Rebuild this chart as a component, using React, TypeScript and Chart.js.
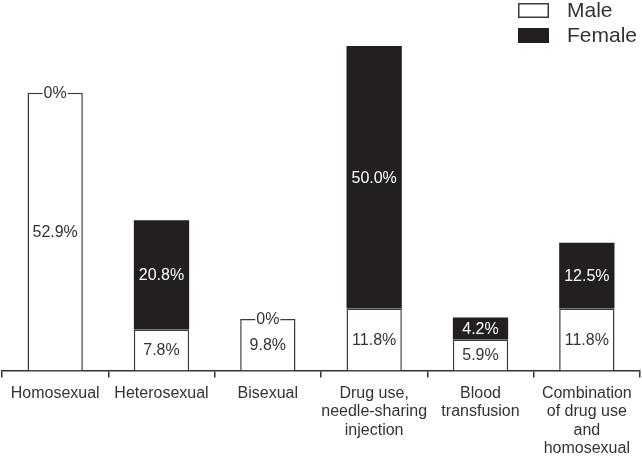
import React, { useEffect, useRef } from "react";
import { Chart, registerables } from "chart.js";

Chart.register(...registerables);

const categories: string[][] = [
  ["Homosexual"],
  ["Heterosexual"],
  ["Bisexual"],
  ["Drug use,", "needle-sharing", "injection"],
  ["Blood", "transfusion"],
  ["Combination", "of drug use", "and", "homosexual"],
];
const maleValues = [52.9, 7.8, 9.8, 11.8, 5.9, 11.8];
const femaleValues = [0, 20.8, 0, 50.0, 4.2, 12.5];
const seriesNames = ["Male", "Female"];

const FONT = "'Liberation Sans', Arial, Helvetica, sans-serif";
const DARK = "#333333";
const BLACK = "#231f20";

const segLabels = {
  id: "segLabels",
  afterDatasetsDraw(chart: any) {
    const ctx = chart.ctx;
    ctx.save();
    ctx.font = `16px ${FONT}`;
    ctx.textAlign = "center";
    ctx.textBaseline = "middle";
    chart.data.datasets.forEach((ds: any, di: number) => {
      const meta = chart.getDatasetMeta(di);
      meta.data.forEach((el: any, i: number) => {
        const v = ds.data[i] as number;
        const { x, y, base } = el.getProps(["x", "y", "base"], true);
        if (v === 0) {
          const txt = "0%";
          const w = ctx.measureText(txt).width;
          ctx.fillStyle = "#ffffff";
          ctx.fillRect(x - w / 2 - 1, y - 8, w + 2, 16);
          ctx.fillStyle = DARK;
          ctx.fillText(txt, x, y + 1);
        } else {
          const txt = v.toFixed(1) + "%";
          ctx.fillStyle = di === 1 ? "#ffffff" : DARK;
          ctx.fillText(txt, x, (y + base) / 2 + 1);
        }
      });
    });
    ctx.restore();
  },
};

const boxLegend = {
  id: "boxLegend",
  afterDraw(chart: any) {
    const ctx = chart.ctx;
    ctx.save();
    const items = chart.data.datasets;
    items.forEach((ds: any, i: number) => {
      const bx = 518;
      const by = 3 + i * 25;
      ctx.fillStyle = ds.backgroundColor;
      ctx.fillRect(bx, by, 31, 15);
      ctx.lineWidth = 1.5;
      ctx.strokeStyle = ds.borderColor;
      ctx.strokeRect(bx + 0.75, by + 0.75, 29.5, 13.5);
      ctx.fillStyle = DARK;
      ctx.font = `21px ${FONT}`;
      ctx.textAlign = "left";
      ctx.textBaseline = "middle";
      ctx.fillText(ds.label, 567, by + 8);
    });
    ctx.restore();
  },
};

export default function App() {
  const ref = useRef<HTMLCanvasElement | null>(null);
  useEffect(() => {
    if (!ref.current) return;
    const chart = new Chart(ref.current, {
      type: "bar",
      data: {
        labels: categories,
        datasets: [
          {
            label: seriesNames[0],
            data: maleValues,
            backgroundColor: "#ffffff",
            borderColor: "#3a3a3a",
            borderWidth: 1.5,
            categoryPercentage: 1,
            barPercentage: 0.52,
          },
          {
            label: seriesNames[1],
            data: femaleValues,
            backgroundColor: BLACK,
            borderColor: BLACK,
            borderWidth: 0,
            categoryPercentage: 1,
            barPercentage: 0.52,
          },
        ],
      },
      options: {
        animation: false,
        responsive: true,
        maintainAspectRatio: false,
        layout: { padding: { top: 3, left: 2, right: 2, bottom: 0 } },
        plugins: {
          legend: { display: false },
          tooltip: { enabled: false },
        },
        scales: {
          x: {
            stacked: true,
            border: { display: true, color: DARK, width: 1.5 },
            grid: {
              offset: true,
              drawOnChartArea: false,
              drawTicks: true,
              tickLength: 7,
              color: DARK,
              lineWidth: 1.5,
            },
            ticks: {
              color: DARK,
              font: { family: FONT, size: 16, lineHeight: 1.15 },
              padding: 7,
              maxRotation: 0,
              autoSkip: false,
            },
          },
          y: {
            stacked: true,
            display: false,
            min: 0,
            max: 70,
          },
        },
      },
      plugins: [segLabels, boxLegend],
    });
    return () => chart.destroy();
  }, []);
  return (
    <div style={{ position: "fixed", left: 0, top: 0, width: 642, height: 465, background: "#fff" }}>
      <canvas ref={ref} />
    </div>
  );
}
